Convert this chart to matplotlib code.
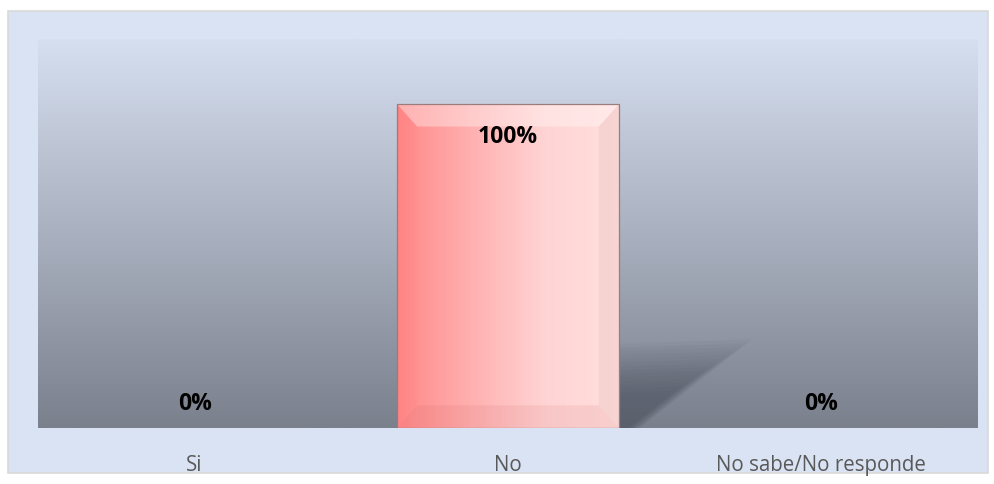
import matplotlib
matplotlib.use("Agg")
import matplotlib.pyplot as plt
import numpy as np
from matplotlib.patches import Rectangle, Polygon
from matplotlib.colors import LinearSegmentedColormap

categories = ["Si", "No", "No sabe/No responde"]
values = [0, 100, 0]
labels = ["0%", "100%", "0%"]

plt.rcParams["font.family"] = ["Open Sans", "DejaVu Sans"]

fig = plt.figure(figsize=(9.95, 4.85), dpi=100)
fig.patch.set_facecolor("white")

# marco exterior
frame = Rectangle((8 / 995, 1 - 474 / 485), 980 / 995, 462 / 485, transform=fig.transFigure,
                  facecolor="#dae3f3", edgecolor="#d9d9d9", lw=1.2, zorder=-10)
fig.add_artist(frame)

ax = fig.add_axes([38 / 995, 1 - 429 / 485, 940 / 995, 389 / 485])
ax.set_zorder(1)
ax.set_xlim(-0.5, 2.5)
ax.set_ylim(0, 120)
for s in ax.spines.values():
    s.set_visible(False)
ax.set_yticks([])
ax.tick_params(axis="x", length=0, pad=19, labelsize=14.8, labelcolor="#595959")
ax.set_xticks(range(len(categories)))
ax.set_xticklabels(categories)

# fondo degradado del area de trazado
bg = LinearSegmentedColormap.from_list("bg", ["#7a808c", "#a9b0bf", "#d6dff0"])
grad = np.linspace(0, 1, 256).reshape(-1, 1)
ax.imshow(grad, cmap=bg, aspect="auto", extent=(-0.5, 2.5, 0, 120), origin="lower", zorder=0)

width = 0.71
bars = ax.bar(range(len(categories)), values, width=width, color="none",
              edgecolor="#9a7c7c", lw=0.9, zorder=3)

barcm = LinearSegmentedColormap.from_list("bar", ["#ff8888", "#ffb0b0", "#ffd4d4", "#ffdfdd"])
hgrad = np.linspace(0, 1, 256).reshape(1, -1)
for i, (b, v) in enumerate(zip(bars, values)):
    if v <= 0:
        continue
    x0, x1 = b.get_x(), b.get_x() + b.get_width()
    # sombra difusa
    for k in range(14):
        s = 1.12 - k * 0.05
        shadow = Polygon([(x1 - 0.05, 0), (x1 - 0.05, 23 * s), (x1 + 0.38 * s, 24.5 * s),
                          (x1 + 0.06 * s, 0)], closed=True,
                         facecolor="#3a404c", edgecolor="none", alpha=0.04, zorder=1)
        ax.add_patch(shadow)
    im = ax.imshow(hgrad, cmap=barcm, aspect="auto", extent=(x0, x1, 0, v), zorder=2)
    im.set_clip_path(b)
    # bisel
    bx = 0.065
    by = 7.0
    top = Polygon([(x0, v), (x1, v), (x1 - bx, v - by), (x0 + bx, v - by)],
                  facecolor="white", alpha=0.35, edgecolor="none", zorder=2.5)
    bot = Polygon([(x0, 0), (x1, 0), (x1 - bx, by), (x0 + bx, by)],
                  facecolor="#c05050", alpha=0.10, edgecolor="none", zorder=2.5)
    left = Polygon([(x0, 0), (x0, v), (x0 + bx, v - by), (x0 + bx, by)],
                   facecolor="#ff6060", alpha=0.08, edgecolor="none", zorder=2.5)
    right = Polygon([(x1, 0), (x1, v), (x1 - bx, v - by), (x1 - bx, by)],
                    facecolor="#b08080", alpha=0.10, edgecolor="none", zorder=2.5)
    for p in (top, bot, left, right):
        ax.add_patch(p)

for i, (v, lab) in enumerate(zip(values, labels)):
    y = v - 10 if v > 0 else 7.7
    ax.text(i, y, lab, ha="center", va="center", fontsize=16.5, fontweight="bold",
            color="black", zorder=5)

fig.savefig("out.png", dpi=100)
